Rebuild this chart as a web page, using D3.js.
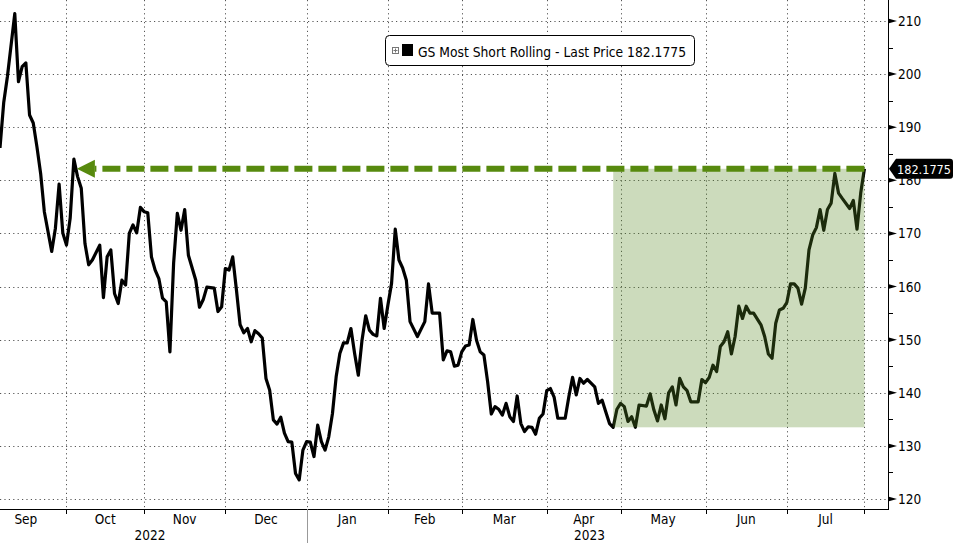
<!DOCTYPE html>
<html>
<head>
<meta charset="utf-8">
<script src="https://cdn.jsdelivr.net/npm/d3@7"></script>
<style>
  html, body { margin: 0; padding: 0; background: #fff; }
  svg { display: block; }
  text { font-family: "DejaVu Sans Condensed", "DejaVu Sans", sans-serif; font-stretch: condensed; }
</style>
</head>
<body>
<svg id="chart" width="953" height="543"></svg>
<script>
// ---- data (weekday index since 2022-09-07, price) ----
const seriesName = "GS Most Short Rolling - Last Price";
const lastPrice = 182.1775;
const dayIndex = [0,1,2,4,5,6,7,8,9,10,11,12,14,15,16,17,18,19,20,21,22,23,24,25,27,28,29,30,31,32,33,34,35,36,37,38,39,40,41,42,43,44,45,46,47,48,49,50,51,53,54,55,56,58,59,60,61,62,63,64,65,66,67,68,69,70,71,72,73,74,75,76,77,78,79,80,81,82,83,84,85,86,87,88,89,90,91,92,93,94,95,96,97,98,99,100,101,102,103,104,105,106,107,108,109,110,111,113,115,116,117,119,120,121,122,123,124,125,126,127,128,129,130,131,132,133,134,135,136,137,138,139,140,141,142,143,144,145,146,147,148,149,150,151,153,154,155,156,157,158,159,160,161,162,163,164,165,166,167,168,169,170,171,172,173,175,176,177,178,179,180,181,182,183,184,185,186,187,189,190,191,192,193,194,195,196,197,198,199,200,201,202,203,204,206,207,208,209,210,211,212,213,214,215,216,217,218,219,220,221,222,223,224,225,226,227,228,230,231,232,233,234];
const price = [186.1,194.6,199.5,211.4,198.6,201.4,202.1,192.3,190.8,186.3,181.3,174.1,166.6,171,179.3,170.1,167.8,172.9,184,180.7,178.5,168.1,164.1,165,167.8,157.9,165.6,166.9,158.7,156.8,161.2,160.3,170.0,171.6,170.1,174.9,174.1,173.9,165.6,163.1,161.5,157.8,157.1,147.7,164.4,173.8,170.6,174.5,165.9,161.2,156.1,157.5,159.9,159.7,155.3,156.2,163.4,163.1,165.6,159.4,152.8,151.3,152.1,149.6,151.7,151.1,150.3,142.7,140.5,134.9,134.1,135.4,132.4,130.8,130.7,124.8,123.6,129.2,130.8,130.7,128.0,133.9,130.8,129.2,131.7,136.1,143.0,147.4,149.4,149.4,152.1,147.4,143.3,149.9,154.5,151.8,151.0,150.7,157.8,152.1,156.5,160.6,170.8,165.0,163.5,161.2,153.4,150.6,153.4,160.5,155.0,155.0,146.2,147.9,147.7,145.0,145.2,147.7,148.8,149.0,153.8,149.9,147.7,147.1,142.1,136.0,137.4,136.9,135.8,138.0,135.5,134.6,139.4,134.2,132.7,133.6,133.5,132.2,135.2,136.0,140.4,140.8,139.2,135.2,135.2,139.3,142.9,139.6,142.7,141.8,142.5,141.8,141.1,138.0,138.6,136.4,134.2,133.5,136.9,138.0,137.4,134.6,135.5,133.5,137.7,137.5,139.8,136.8,134.7,137.7,135.1,140.0,141.1,137.7,142.7,141.1,140.4,138.3,138.3,142.5,141.9,142.9,145.2,144.0,148.7,149.6,151.5,147.3,150.6,156.3,154.0,156.3,155.0,155.0,152.8,150.6,147.3,146.5,153.1,155.6,155.9,157.0,160.5,160.5,159.7,156.7,159.7,166.9,169.7,171.1,174.5,170.6,174.5,175.7,181.3,177.6,176.6,174.7,176.2,170.8,177.6,182.1775];

const baseDate = "2022-09-07";
const monthStarts = ["2022-09-01","2022-10-01","2022-11-01","2022-12-01","2023-01-01","2023-02-01","2023-03-01","2023-04-01","2023-05-01","2023-06-01","2023-07-01","2023-08-01"];
const monthLabels = ["Sep","Oct","Nov","Dec","Jan","Feb","Mar","Apr","May","Jun","Jul"];
const yearLabels = ["2022","2023"];
const yearStarts = ["2022-09-01","2023-01-01"];
const yearEnds = ["2023-01-01","2023-08-01"];
const yTicks = [120,130,140,150,160,170,180,190,200,210];
const yMinorTicks = [125,135,145,155,165,175,185,195,205];
const boxStartIdx = 166;   // low after April
const boxLow = 133.5;
const arrowTargetIdx = 20; // October peak

// weekday index relative to baseDate (count weekdays in [base, d))
function wdIndex(s) {
  const b = new Date(baseDate + "T00:00:00Z"), d = new Date(s + "T00:00:00Z");
  const sign = d >= b ? 1 : -1;
  let a = sign > 0 ? b : d, e = sign > 0 ? d : b, n = 0;
  for (let t = new Date(a); t < e; t.setUTCDate(t.getUTCDate() + 1)) {
    const w = t.getUTCDay(); if (w !== 0 && w !== 6) n++;
  }
  return sign * n;
}

const svg = d3.select("#chart");
const plotRight = 888, axisY = 509;
const x = d3.scaleLinear().domain([0, 234]).range([0, 864.4]);
const y = d3.scaleLinear().domain([120, 210]).range([499, 21]);

const monthIdx = monthStarts.map(wdIndex);

// gridlines
const grid = svg.append("g").attr("stroke", "#555").attr("stroke-width", 1).attr("stroke-dasharray", "1.2,3.2");
grid.selectAll("line.h").data(yTicks).join("line")
  .attr("x1", 0).attr("x2", plotRight).attr("y1", d => Math.round(y(d)) + 0.5).attr("y2", d => Math.round(y(d)) + 0.5);
grid.selectAll("line.v").data(monthIdx.slice(1)).join("line")
  .attr("x1", d => Math.round(x(d)) + 0.5).attr("x2", d => Math.round(x(d)) + 0.5).attr("y1", 0).attr("y2", axisY);

// price line
const pts = dayIndex.map((d, i) => [d, price[i]]);
svg.append("path").datum(pts)
  .attr("fill", "none").attr("stroke", "#000").attr("stroke-width", 3.2).attr("stroke-linejoin", "round")
  .attr("d", d3.line().x(d => x(d[0])).y(d => y(d[1])));

// shaded box
svg.append("rect")
  .attr("x", x(boxStartIdx)).attr("y", y(lastPrice))
  .attr("width", x(234) - x(boxStartIdx)).attr("height", y(boxLow) - y(lastPrice))
  .attr("fill", "rgb(90,139,39)").attr("fill-opacity", 0.31);

// arrow
const green = "#578a0e";
const ay = y(lastPrice);
const tipX = x(arrowTargetIdx) + 3;
svg.append("line").attr("x1", x(234)).attr("x2", tipX + 18).attr("y1", ay).attr("y2", ay)
  .attr("stroke", green).attr("stroke-width", 6).attr("stroke-dasharray", "18,6");
svg.append("path").attr("fill", green)
  .attr("d", `M${tipX},${ay} L${tipX + 18},${ay - 9} L${tipX + 18},${ay + 9} Z`);

// legend
const lg = svg.append("g");
lg.append("rect").attr("x", 385.5).attr("y", 35.5).attr("width", 309).attr("height", 30).attr("rx", 4)
  .attr("fill", "#fff").attr("stroke", "#000").attr("stroke-width", 1);
lg.append("rect").attr("x", 392.5).attr("y", 47.5).attr("width", 6).attr("height", 6).attr("fill", "#fff").attr("stroke", "#777");
lg.append("path").attr("d", "M393.5,50.5 H397.5 M395.5,48.5 V52.5").attr("stroke", "#777").attr("stroke-width", 1);
lg.append("rect").attr("x", 402).attr("y", 44).attr("width", 11).attr("height", 12).attr("fill", "#000");
lg.append("text").attr("x", 418).attr("y", 56.5).attr("font-size", 14.5).attr("fill", "#000")
  .attr("textLength", 268).attr("lengthAdjust", "spacingAndGlyphs")
  .text(seriesName + " " + lastPrice);

// bottom axis
svg.append("line").attr("x1", 0).attr("x2", plotRight + 0.5).attr("y1", axisY + 0.5).attr("y2", axisY + 0.5).attr("stroke", "#000");
svg.selectAll("line.mt").data(monthIdx.slice(1)).join("line")
  .attr("x1", d => Math.round(x(d)) + 0.5).attr("x2", d => Math.round(x(d)) + 0.5)
  .attr("y1", axisY).attr("y2", axisY + 5).attr("stroke", "#000");
svg.selectAll("text.month").data(monthLabels).join("text")
  .attr("x", (d, i) => (x(monthIdx[i]) + x(monthIdx[i + 1])) / 2).attr("y", 524)
  .attr("text-anchor", "middle").attr("font-size", 13.5).attr("fill", "#000").text(d => d);
const janX = Math.round(x(wdIndex(yearStarts[1]))) + 0.5;
svg.append("line").attr("x1", janX).attr("x2", janX).attr("y1", axisY).attr("y2", 543).attr("stroke", "#999");
svg.selectAll("text.year").data(yearLabels).join("text")
  .attr("x", (d, i) => (x(wdIndex(yearStarts[i])) + x(wdIndex(yearEnds[i]))) / 2 + 4).attr("y", 540)
  .attr("text-anchor", "middle").attr("font-size", 13.5).attr("fill", "#000").text(d => d);

// right axis
svg.append("line").attr("x1", plotRight + 0.5).attr("x2", plotRight + 0.5).attr("y1", 0).attr("y2", axisY + 1).attr("stroke", "#000");
svg.selectAll("path.tri").data(yTicks).join("path")
  .attr("d", d => `M${plotRight},${y(d) - 2.5} L${plotRight + 9},${y(d)} L${plotRight},${y(d) + 2.5} Z`).attr("fill", "#000");
svg.selectAll("line.minor").data(yMinorTicks).join("line")
  .attr("x1", plotRight).attr("x2", plotRight + 5).attr("y1", d => Math.round(y(d)) + 0.5).attr("y2", d => Math.round(y(d)) + 0.5).attr("stroke", "#000");
svg.selectAll("text.yl").data(yTicks.filter(d => d !== 180)).join("text")
  .attr("x", 898).attr("y", d => y(d) + 5).attr("font-size", 13.5).attr("fill", "#000").text(d => d);
// 180 label sits partly hidden beneath the price tag, as in the original
svg.append("text").attr("x", 898).attr("y", y(180) + 5).attr("font-size", 13.5).attr("fill", "#000").text(180);

// last price tag
const ty = y(lastPrice);
svg.append("path").attr("fill", "#000")
  .attr("d", `M889,${ty} L896,${ty - 10} L950,${ty - 10} Q953,${ty - 10} 953,${ty - 7} L953,${ty + 7} Q953,${ty + 10} 950,${ty + 10} L896,${ty + 10} Z`);
svg.append("text").attr("x", 897).attr("y", ty + 5).attr("font-size", 13).attr("fill", "#fff")
  .attr("textLength", 54).attr("lengthAdjust", "spacingAndGlyphs").text(lastPrice);
</script>
</body>
</html>
